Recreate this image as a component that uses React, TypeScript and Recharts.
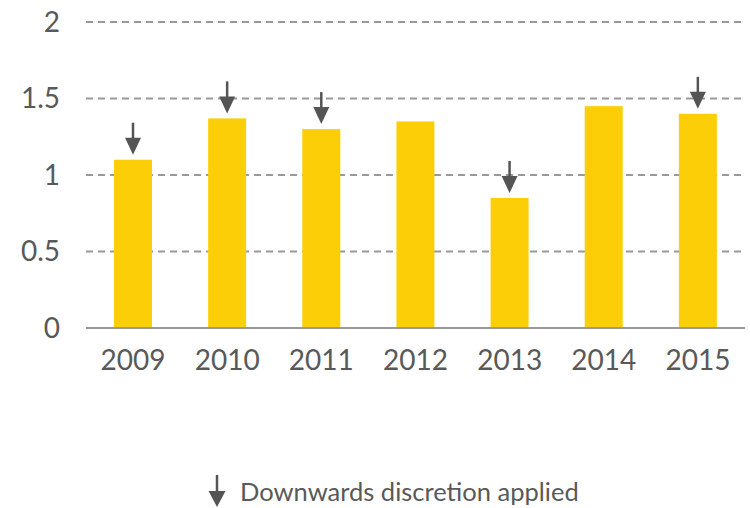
import React from 'react';
import { BarChart, Bar, XAxis, YAxis, CartesianGrid } from 'recharts';

const years = ['2009', '2010', '2011', '2012', '2013', '2014', '2015'];
const values = [1.1, 1.37, 1.3, 1.35, 0.85, 1.45, 1.4];
const discretion = [true, true, true, false, true, false, true];
const yTicks = [0, 0.5, 1, 1.5, 2];
const legendLabel = 'Downwards discretion applied';

const data = years.map((year, i) => ({ year, value: values[i], discretion: discretion[i] }));

const FONT = 'Lato, "Open Sans", sans-serif';
const TEXT = '#595959';
const ARROW = '#555555';

const ArrowBar = (props: any) => {
  const { x, y, width, height, fill, payload } = props;
  const cx = x + width / 2;
  return (
    <g>
      <rect x={x} y={y} width={width} height={height} fill={fill} />
      {payload && payload.discretion ? (
        <g>
          <line x1={cx} x2={cx} y1={y - 37} y2={y - 20} stroke={ARROW} strokeWidth={2.5} />
          <polygon points={`${cx - 8},${y - 22} ${cx + 8},${y - 22} ${cx},${y - 5}`} fill={ARROW} />
        </g>
      ) : null}
    </g>
  );
};

export default function App() {
  return (
    <div style={{ position: 'absolute', left: 0, top: 0, width: 750, height: 508, background: '#fff' }}>
      <BarChart
        width={750}
        height={508}
        data={data}
        margin={{ top: 22, right: 5, left: 0, bottom: 140 }}
      >
        <CartesianGrid vertical={false} stroke="#999" strokeWidth={2} strokeDasharray="7 5" />
        <XAxis
          dataKey="year"
          height={40}
          tickLine={false}
          tickSize={0}
          tickMargin={22}
          axisLine={{ stroke: '#999', strokeWidth: 2 }}
          tick={{ fill: TEXT, fontSize: 28, fontFamily: FONT }}
          interval={0}
        />
        <YAxis
          width={86}
          domain={[0, 2]}
          ticks={yTicks}
          axisLine={false}
          tickLine={false}
          tickSize={0}
          tickMargin={26}
          tick={{ fill: TEXT, fontSize: 28, fontFamily: FONT }}
          allowDecimals
        />
        <Bar dataKey="value" fill="#FBCE07" barSize={38} isAnimationActive={false} shape={<ArrowBar />} />
      </BarChart>
      <div
        style={{
          position: 'absolute',
          left: 205,
          top: 474,
          display: 'flex',
          alignItems: 'center',
          fontFamily: FONT,
          fontSize: 25.5,
          color: TEXT,
          whiteSpace: 'nowrap',
        }}
      >
        <svg width={24} height={34} style={{ marginRight: 11 }}>
          <line x1={12} x2={12} y1={1} y2={19} stroke={ARROW} strokeWidth={2.5} />
          <polygon points="3.5,17 20.5,17 12,33" fill={ARROW} />
        </svg>
        <span>{legendLabel}</span>
      </div>
    </div>
  );
}
